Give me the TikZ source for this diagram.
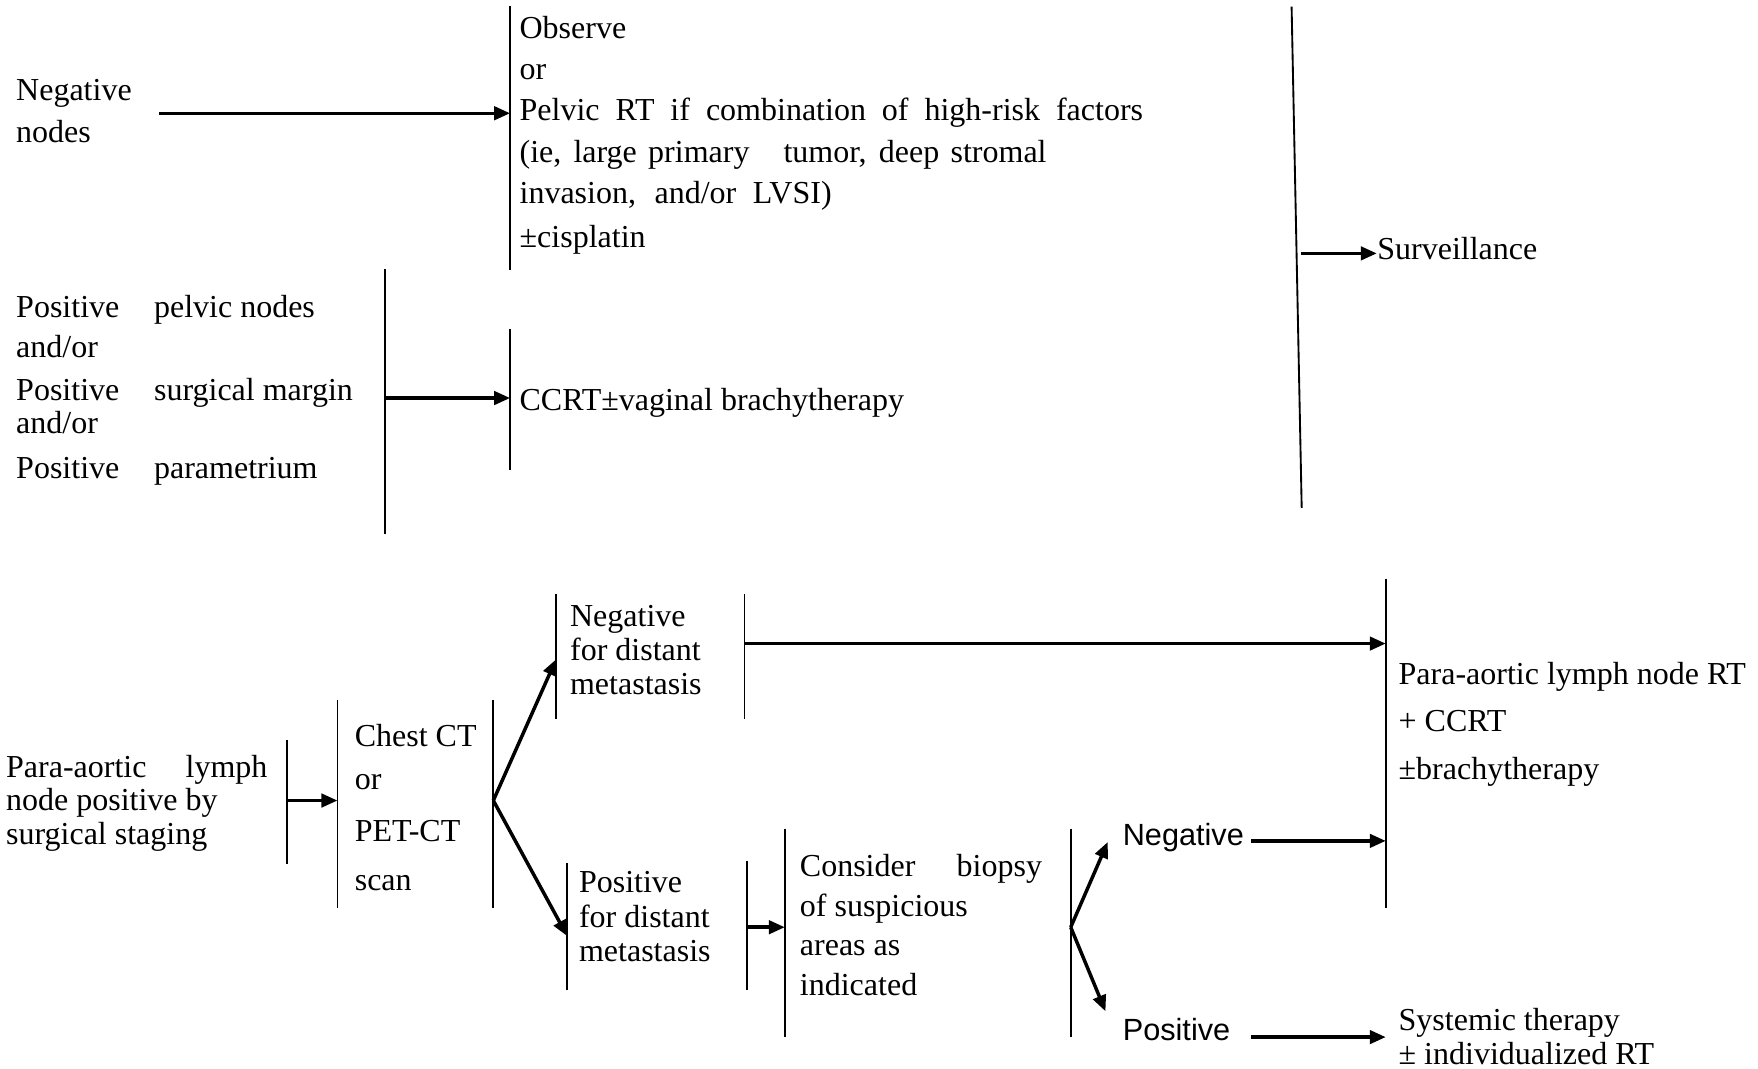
\documentclass[tikz,border=0pt]{standalone}
\usepackage{fontspec}
\setmainfont{Liberation Serif}
\newfontfamily\sansword{Liberation Sans}
\usetikzlibrary{arrows.meta}
\newcommand{\jline}[2]{\makebox[#1][s]{#2}}

\begin{document}
\begin{tikzpicture}[
			x=0.42045pt, y=-0.42045pt,
			every node/.style={font=\fontsize{12}{15.5}\selectfont},
			bar/.style={line width=0.7pt},
			arr/.style={line width=1.3pt, -{Triangle[length=6pt,width=5pt]}},
			txt/.style={anchor=west, align=left, inner sep=0pt}
			]
				\useasboundingbox (0,0) rectangle (1568,953);

				% upper part
				\draw[bar] (455,5) coordinate (obsT) -- (455,241);
				\draw[bar] (343,240) coordinate (posT) -- (343,476);
				\draw[bar] (455,293) coordinate (ccrtT) -- (455,419);
				\draw[bar] (1152,6) coordinate (survT) -- (1161,453);

				\node[txt] (negn) at (14,99) {Negative\\nodes};
				\node[txt] (obs) at (463,120.5) {Observe\\or\\\jline{233.8pt}{Pelvic RT if combination of high-risk factors}\\\jline{197.6pt}{(ie, large primary\ \ \ tumor, deep stromal}\\\jline{117pt}{invasion, and/or LVSI)}\\[1pt]±cisplatin};
				\node[txt, font=\fontsize{12}{15.1}\selectfont] (pos) at (14,348) {\makebox[51.7pt][l]{Positive}pelvic nodes\\and/or\\[0.8pt]\makebox[51.7pt][l]{Positive}surgical\ margin\\[-2.5pt]and/or\\[1.7pt]\makebox[51.7pt][l]{Positive}parametrium};
				\node[txt] (ccrt) at (463,359) {CCRT±vaginal brachytherapy};
				\node[txt] (surv) at (1228,222) {Surveillance};

				\coordinate (negA) at (142,101);
				\draw[arr] (negA) -- (negA -| obsT);
				\coordinate (posA) at (343,355);
				\draw[arr] (posA) -- (posA -| ccrtT);
				\coordinate (survA) at (1160,226);
				\draw[arr] (survA) -- (survA -| surv.west);

				% lower part
				\draw[bar] (256,660) coordinate (paR) -- (256,771);
				\draw[bar] (301,624) coordinate (ctL) -- (301,810);
				\draw[bar] (440,624) coordinate (ctR) -- (440,810);
				\draw[bar] (496,530) coordinate (ndL) -- (496,641);
				\draw[bar] (664,530) coordinate (ndR) -- (664,641);
				\draw[bar] (506,770) coordinate (pdL) -- (506,883);
				\draw[bar] (666,768) coordinate (pdR) -- (666,883);
				\draw[bar] (700,739) coordinate (bioL) -- (700,925);
				\draw[bar] (955,739) coordinate (bioR) -- (955,925);
				\draw[bar] (1236,516) coordinate (parL) -- (1236,810);

				\node[txt, font=\fontsize{12}{12.6}\selectfont] (pa) at (5,716.5) {\jline{98pt}{Para-aortic\ \ \ lymph}\\node positive by\\surgical staging};
				\node[txt, font=\fontsize{12}{16}\selectfont] (ct) at (316,720.5) {Chest CT\\[0.2pt]or\\[3.4pt]PET-CT\\[2.5pt]scan};
				\node[txt, font=\fontsize{12}{12.8}\selectfont] (nd) at (508,580) {Negative\\for distant\\metastasis};
				\node[txt, font=\fontsize{12}{12.8}\selectfont] (pd) at (516,817.5) {Positive\\for distant\\metastasis};
				\node[txt, font=\fontsize{12}{14.8}\selectfont] (bio) at (713,825) {\jline{90.8pt}{Consider\ \ \ biopsy}\\of suspicious\\areas as\\indicated};
				\node[txt, font=\sansword\fontsize{11.5}{13}\selectfont] (neg2) at (1001,747) {Negative};
				\node[txt, font=\sansword\fontsize{11.5}{13}\selectfont] (pos2) at (1001,918) {Positive};
				\node[txt, font=\fontsize{12}{17.9}\selectfont] (par) at (1247,646) {Para-aortic lymph node RT\\+ CCRT\\±brachytherapy};
				\node[txt, font=\fontsize{12}{13}\selectfont] (sys) at (1247,924.5) {Systemic therapy\\± individualized RT};

				\coordinate (paA) at (256,714);
				\draw[arr] (paA) -- (paA -| ctL);
				\coordinate (ctA) at (440,714);
				\draw[arr] (ctA) -- (ndL |- 0,588);
				\draw[arr] (ctA) -- (pdL |- 0,835);
				\coordinate (ndA) at (664,574);
				\draw[arr] (ndA) -- (ndA -| parL);
				\coordinate (pdA) at (666,827);
				\draw[arr] (pdA) -- (pdA -| bioL);
				\coordinate (bioA) at (955,827);
				\draw[arr] (bioA) -- (988,751);
				\draw[arr] (bioA) -- (986,902);
				\coordinate (n2A) at (1116,750);
				\draw[arr] (n2A) -- (n2A -| parL);
				\coordinate (p2A) at (1116,925);
				\draw[arr] (p2A) -- (p2A -| parL);

			\end{tikzpicture}
\end{document}
